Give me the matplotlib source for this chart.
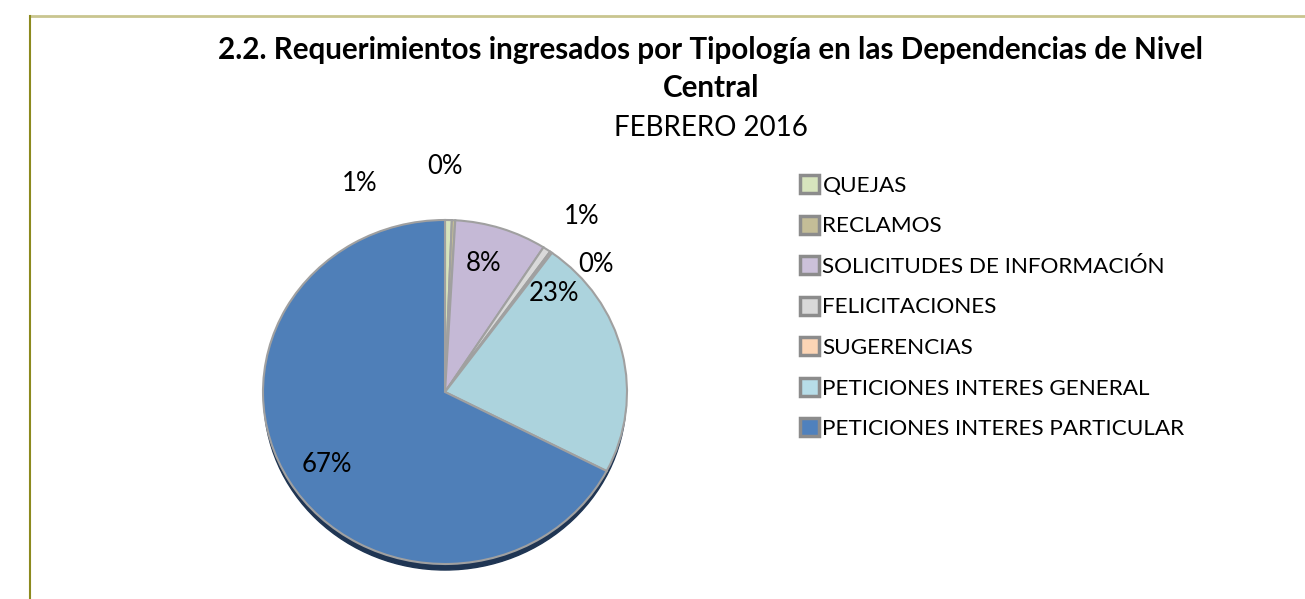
import matplotlib.pyplot as plt
from matplotlib.patches import Patch, Ellipse
from matplotlib.lines import Line2D

plt.rcParams['font.family'] = ['Lato', 'DejaVu Sans']

# Data
categories = ['QUEJAS', 'RECLAMOS', 'SOLICITUDES DE INFORMACIÓN', 'FELICITACIONES',
              'SUGERENCIAS', 'PETICIONES INTERES GENERAL', 'PETICIONES INTERES PARTICULAR']
shares = [0.6, 0.3, 8.2, 0.7, 0.2, 22.6, 67.4]
pct_labels = ['1%', '0%', '8%', '1%', '0%', '23%', '67%']

colors = ['#d7e4bd', '#c4bd97', '#c5b9d6', '#d9d9d9', '#fcd5b5', '#acd3dd', '#4f7fb8']
legend_colors = ['#d7e4bd', '#c4bd97', '#ccc1da', '#d9d9d9', '#fcd5b5', '#b7dde8', '#4f81bd']
# label spots (data units of the pie axes)
label_pos = [(-0.47, 1.21), (0.0, 1.31), (0.21, 0.75), (0.75, 1.02),
             (0.83, 0.74), (0.60, 0.57), (-0.65, -0.42)]

W, H = 1305, 599
fig = plt.figure(figsize=(W / 100, H / 100), dpi=100)

# frame lines
fig.add_artist(Line2D([30 / W, 1], [1 - 15.5 / H] * 2, color='#c9c58f', lw=2))
fig.add_artist(Line2D([30 / W] * 2, [0, 1 - 15.5 / H], color='#8c8a1e', lw=1.5))

# pie axes: center (445, 392) px, rx 182, ry 172
ax_w, ax_h = 400, 400
cx, cy = 445, 392
ax = fig.add_axes([(cx - ax_w / 2) / W, (H - cy - ax_h / 2) / H, ax_w / W, ax_h / H])
ax.add_patch(Ellipse((0.0, -0.035), 1.99, 2.0, color='#1f3553', zorder=0))
ax.pie(shares, colors=colors, startangle=90, counterclock=False,
       wedgeprops=dict(edgecolor='#a0a0a0', linewidth=1.5))
ax.set_aspect('auto')
ax.set_xlim(-ax_w / 2 / 182, ax_w / 2 / 182)
ax.set_ylim(-ax_h / 2 / 172, ax_h / 2 / 172)
ax.axis('off')

for lab, (x, y) in zip(pct_labels, label_pos):
    ax.text(x, y, lab, ha='center', va='center', fontsize=18.5, color='black')

# titles
fig.text(711 / W, 1 - 50 / H, '2.2. Requerimientos ingresados por Tipología en las Dependencias de Nivel',
         ha='center', va='center', fontsize=21.3, fontweight='bold')
fig.text(711 / W, 1 - 88 / H, 'Central', ha='center', va='center', fontsize=21.3, fontweight='bold')
fig.text(711 / W, 1 - 128 / H, 'FEBRERO 2016', ha='center', va='center', fontsize=20)

handles = [Patch(facecolor=c, edgecolor='#8c8c8c', linewidth=2.5) for c in legend_colors]
fig.legend(handles, categories, loc='upper left', bbox_to_anchor=(800 / W, 1 - 175 / H),
           frameon=False, fontsize=16.2, handlelength=0.85, handleheight=0.85,
           handletextpad=0.15, labelspacing=0.88, borderpad=0, borderaxespad=0)

fig.savefig('out.png', dpi=100)
